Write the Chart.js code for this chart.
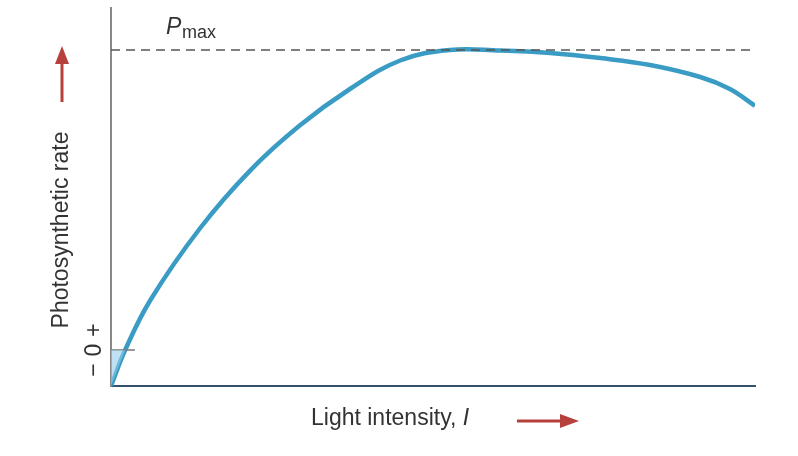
<!DOCTYPE html>
<html><head><meta charset="utf-8">
<script src="https://cdn.jsdelivr.net/npm/chart.js@4"></script>
<style>body{margin:0;background:#fff}#wrap{width:798px;height:456px}</style>
</head><body><div id="wrap"><canvas id="chart"></canvas></div>
<script>
// Kurve (x: Lichtintensitaet 0..100, y: Rate, Pmax = 100)
const lightX = [0, 2.2, 6.1, 13.8, 21.6, 29.3, 37.1, 44.9, 52.6, 60.4, 68.2, 76, 83.7, 91.5, 96.1, 100];
const rateY = [-12, 0, 16.6, 40.5, 59.8, 74.8, 87, 96.5, 100, 99.8, 99, 97.3, 95, 91, 87, 81.4];
const pMax = 100;
const zeroTickX = [0, 3.7];
const shadeX = [0, 2.2];
const shadeY = [-12, 0];

const RED = '#b5403c';
const FONT = '"Liberation Sans", Arial, sans-serif';

const deko = {
  id: 'deko',
  afterDraw(c) {
    const g = c.ctx;
    const ys = c.scales.y;
    g.save();
    g.fillStyle = '#333';
    g.font = 'italic 23px ' + FONT;
    g.fillText('P', 166, 34);
    g.font = '18px ' + FONT;
    g.fillText('max', 182, 38);
    // y-Achse Titel
    g.save();
    g.translate(62, 230);
    g.rotate(-Math.PI / 2);
    g.font = '23px ' + FONT;
    g.textAlign = 'center';
    g.textBaseline = 'middle';
    g.fillText('Photosynthetic rate', 0, 0);
    g.restore();
    // +, 0, - Markierungen
    const y0 = ys.getPixelForValue(0);
    [['+', -20], ['0', 0], ['\u2212', 20]].forEach(([t, d]) => {
      g.save();
      g.translate(95, y0 + d);
      g.rotate(-Math.PI / 2);
      g.font = '23px ' + FONT;
      g.textAlign = 'center';
      g.textBaseline = 'middle';
      g.fillText(t, 0, 0);
      g.restore();
    });
    // x-Achse Titel
    g.font = '23px ' + FONT;
    g.textAlign = 'left';
    g.textBaseline = 'middle';
    const t1 = 'Light intensity, ';
    g.fillText(t1, 311, 419);
    const w = g.measureText(t1).width;
    g.font = 'italic 23px ' + FONT;
    g.fillText('I', 311 + w, 419);
    // Pfeile
    g.strokeStyle = RED; g.fillStyle = RED; g.lineWidth = 3;
    g.beginPath(); g.moveTo(62, 102); g.lineTo(62, 62); g.stroke();
    g.beginPath(); g.moveTo(62, 46); g.lineTo(55, 64); g.lineTo(69, 64); g.closePath(); g.fill();
    g.beginPath(); g.moveTo(517, 421); g.lineTo(562, 421); g.stroke();
    g.beginPath(); g.moveTo(579, 421); g.lineTo(560, 414); g.lineTo(560, 428); g.closePath(); g.fill();
    g.restore();
  }
};

new Chart(document.getElementById('chart'), {
  type: 'line',
  data: {
    datasets: [
      { data: shadeX.map((x, i) => ({ x, y: shadeY[i] })), borderWidth: 0, pointRadius: 0,
        fill: 'origin', backgroundColor: 'rgba(150,205,235,0.6)' },
      { data: zeroTickX.map(x => ({ x, y: 0 })), borderColor: '#777', borderWidth: 1.5, pointRadius: 0 },
      { data: [{ x: 0, y: pMax }, { x: 100, y: pMax }], borderColor: '#555', borderWidth: 1.3,
        borderDash: [9, 6], pointRadius: 0 },
      { data: lightX.map((x, i) => ({ x, y: rateY[i] })), borderColor: '#3a9cc4', borderWidth: 4.5,
        pointRadius: 0, tension: 0.4, fill: false }
    ]
  },
  options: {
    responsive: true, maintainAspectRatio: false, animation: false,
    layout: { padding: { left: 103, right: 43, top: 8, bottom: 62 } },
    plugins: { legend: { display: false }, tooltip: { enabled: false } },
    scales: {
      x: { type: 'linear', min: 0, max: 100, grid: { display: false },
        ticks: { display: false }, border: { color: '#35506a', width: 2 } },
      y: { min: -12, max: 114, grid: { display: false },
        ticks: { display: false }, border: { color: '#888', width: 2 } }
    }
  },
  plugins: [deko]
});
</script></body></html>
